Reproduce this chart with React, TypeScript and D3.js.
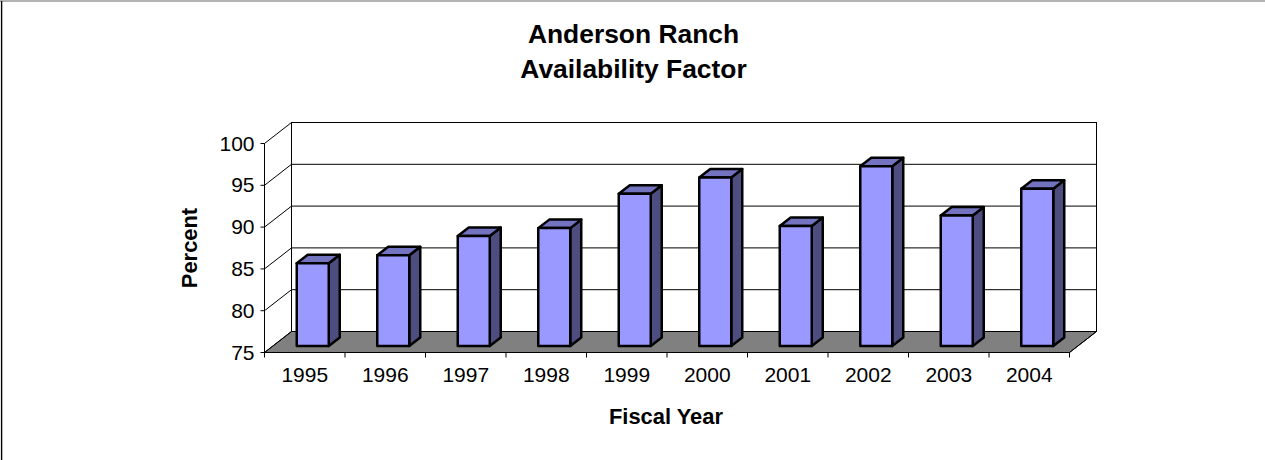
import React from "react";
import * as d3 from "d3";

const years = ["1995","1996","1997","1998","1999","2000","2001","2002","2003","2004"];
const availability = [84.9,85.85,88.15,89.1,93.2,95.15,89.35,96.5,90.6,93.8];
const yTicks = [75,80,85,90,95,100];
const titleLines = ["Anderson Ranch","Availability Factor"];

const x = d3.scaleBand<string>().domain(years).range([264.5,1069.5]);
const y = d3.scaleLinear().domain([75,100]).range([352.5,143.5]);
const depth = { dx: 27, dy: -21 };
const barOffset = { dx: 8, dy: -6.5 };
const barDepth = { dx: 11, dy: -8.5 };
const barW = 32;
const font = "'Liberation Sans', Arial, sans-serif";

export default function App() {
  const [x0, x1] = x.range();
  const y0 = y(75);
  const y1 = y(100);
  const poly = (pts: number[][]) => pts.map(p => p.join(",")).join(" ");
  return (
    <svg width={1265} height={460} style={{ position: "absolute", left: 0, top: 0, background: "#fff" }} fontFamily={font}>
      <line x1={0} x2={1265} y1={1} y2={1} stroke="#000" strokeOpacity={0.6} strokeWidth={1} />
      <line x1={1.6} x2={1.6} y1={1} y2={460} stroke="#000" strokeWidth={1.4} />

      {titleLines.map((t, i) => (
        <text key={t} x={633.5} y={43 + i * 35} textAnchor="middle" fontSize={26.4} fontWeight="bold">{t}</text>
      ))}

      <polygon points={poly([[x0,y0],[x1,y0],[x1+depth.dx,y0+depth.dy],[x0+depth.dx,y0+depth.dy]])} fill="#808080" stroke="#000" strokeWidth={1} />
      <rect x={x0+depth.dx} y={y1+depth.dy} width={x1-x0} height={y0-y1} fill="none" stroke="#000" strokeWidth={1} />
      <line x1={x0} x2={x0} y1={y0} y2={y1} stroke="#000" />
      <line x1={x1} x2={x1+depth.dx} y1={y0} y2={y0+depth.dy} stroke="#000" />

      {yTicks.map(t => (
        <g key={t}>
          <polyline points={poly([[x0-4,y(t)],[x0,y(t)],[x0+depth.dx,y(t)+depth.dy],[x1+depth.dx,y(t)+depth.dy]])} fill="none" stroke="#000" strokeWidth={1} />
          <text x={x0-10} y={y(t)+7} textAnchor="end" fontSize={21}>{t}</text>
        </g>
      ))}

      {[...years.map(d => x(d) as number), x1].map((tx, i) => (
        <line key={i} x1={tx} x2={tx} y1={y0} y2={y0+5} stroke="#000" />
      ))}
      {years.map(d => (
        <text key={d} x={(x(d) as number)+x.bandwidth()/2} y={381.5} textAnchor="middle" fontSize={21}>{d}</text>
      ))}

      {years.map((d, i) => {
        const l = (x(d) as number) + x.bandwidth()/2 + barOffset.dx - barW/2;
        const r = l + barW;
        const b = y0 + barOffset.dy;
        const t = y(availability[i]) + barOffset.dy;
        return (
          <g key={d} stroke="#000" strokeWidth={2.5} strokeLinejoin="round">
            <polygon points={poly([[r,b],[r+barDepth.dx,b+barDepth.dy],[r+barDepth.dx,t+barDepth.dy],[r,t]])} fill="#4D4D80" />
            <polygon points={poly([[l,t],[r,t],[r+barDepth.dx,t+barDepth.dy],[l+barDepth.dx,t+barDepth.dy]])} fill="#7373BF" />
            <rect x={l} y={t} width={barW} height={b-t} fill="#9999FF" />
          </g>
        );
      })}

      <text transform="translate(196.5,248) rotate(-90)" textAnchor="middle" fontSize={21.9} fontWeight="bold">Percent</text>
      <text x={666} y={423.5} textAnchor="middle" fontSize={21.9} fontWeight="bold">Fiscal Year</text>
    </svg>
  );
}
